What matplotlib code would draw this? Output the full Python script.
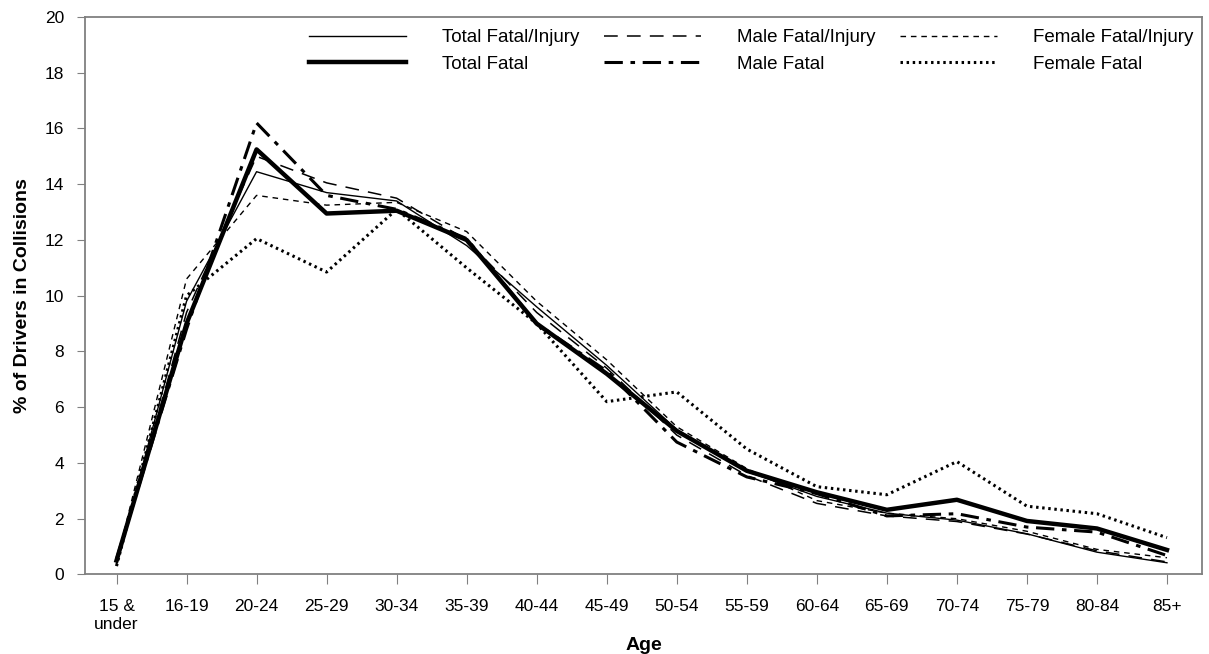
import matplotlib.pyplot as plt
import numpy as np

plt.rcParams['font.family'] = ['Liberation Sans', 'DejaVu Sans']

ages = ['15 &\nunder', '16-19', '20-24', '25-29', '30-34', '35-39', '40-44', '45-49',
        '50-54', '55-59', '60-64', '65-69', '70-74', '75-79', '80-84', '85+']

total_fi = [0.4, 9.8, 14.45, 13.7, 13.4, 11.8, 9.6, 7.5, 5.2, 3.7, 2.8, 2.2, 1.95, 1.46, 0.8, 0.42]
male_fi = [0.35, 9.4, 15.0, 14.05, 13.5, 12.0, 9.4, 7.4, 5.0, 3.55, 2.55, 2.1, 1.9, 1.45, 0.85, 0.45]
female_fi = [0.45, 10.6, 13.6, 13.25, 13.35, 12.3, 9.8, 7.7, 5.3, 3.8, 2.65, 2.2, 2.0, 1.55, 0.9, 0.6]
total_fatal = [0.5, 9.0, 15.25, 12.95, 13.05, 12.0, 9.0, 7.2, 5.15, 3.72, 2.95, 2.32, 2.68, 1.92, 1.65, 0.88]
male_fatal = [0.55, 8.8, 16.2, 13.6, 13.1, 12.05, 9.0, 7.3, 4.75, 3.5, 2.9, 2.1, 2.18, 1.7, 1.52, 0.68]
female_fatal = [0.3, 10.0, 12.05, 10.85, 13.1, 11.0, 9.0, 6.2, 6.55, 4.5, 3.15, 2.86, 4.05, 2.45, 2.18, 1.32]

x = np.arange(len(ages))

fig = plt.figure(figsize=(12.09, 6.54), dpi=100)
ax = fig.add_axes([0.0703, 0.1216, 0.9239, 0.8524])

ax.plot(x, total_fi, color='black', lw=1.0, label='Total Fatal/Injury')
ax.plot(x, total_fatal, color='black', lw=3.2, label='Total Fatal')
ax.plot(x, male_fi, color='black', lw=1.1, dashes=(9, 6), label='Male Fatal/Injury')
ax.plot(x, male_fatal, color='black', lw=2.2, dashes=(6, 2.5, 1.5, 2.5), label='Male Fatal')
ax.plot(x, female_fi, color='black', lw=1.0, dashes=(4, 3.5), label='Female Fatal/Injury')
ax.plot(x, female_fatal, color='black', lw=2.2, dashes=(0.8, 1.2), label='Female Fatal')

ax.set_xlim(-0.45, 15.5)
ax.set_ylim(0, 20)
ax.set_yticks(np.arange(0, 21, 2))
ax.set_xticks(x)
ax.set_xticklabels(ages, fontsize=12.5, linespacing=1.25)
ax.tick_params(axis='y', labelsize=12.5, length=6, color='#808080', pad=9)
ax.tick_params(axis='x', length=7, color='#808080', pad=11)
for s in ax.spines.values():
    s.set_color('#808080')
    s.set_linewidth(1.3)

ax.set_xlabel('Age', fontsize=14, fontweight='bold', labelpad=3)
ax.set_ylabel('% of Drivers in Collisions', fontsize=14, fontweight='bold', labelpad=10)

ax.legend(ncol=3, loc='upper right', bbox_to_anchor=(1.003, 1.0), frameon=False,
          fontsize=13.5, handlelength=5.2, handletextpad=1.9, columnspacing=1.3,
          labelspacing=0.5, borderaxespad=0.25)

fig.savefig('out.png', dpi=100)
